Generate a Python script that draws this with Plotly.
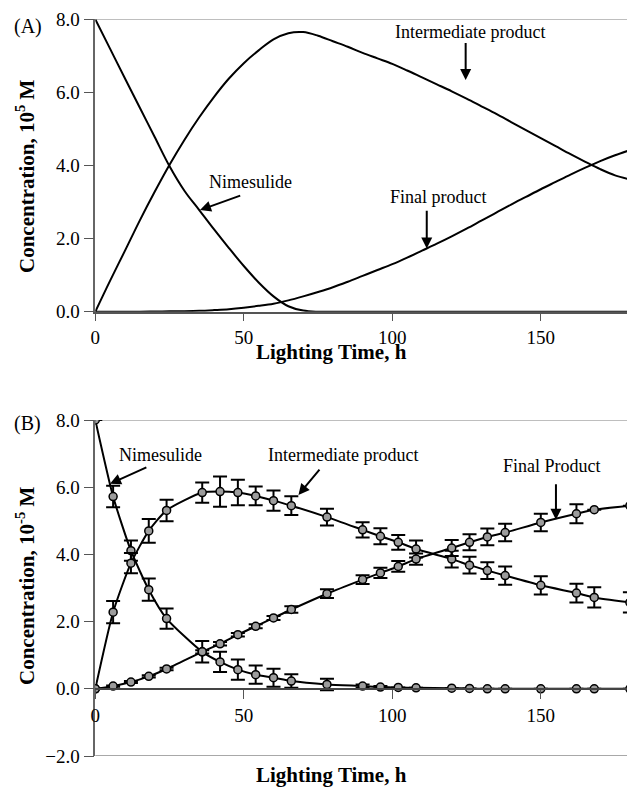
import plotly.graph_objects as go

# ---------------- Panel A (model curves) ----------------
time_a = [0, 5, 10, 15, 20, 25, 30, 35, 40, 45, 50, 55, 60, 65, 70, 75, 80, 85, 90,
          95, 100, 105, 110, 115, 120, 125, 130, 135, 140, 145, 150, 155, 160, 165,
          170, 175, 180]
nim_a = [8.0, 7.19, 6.38, 5.58, 4.78, 3.98, 3.31, 2.78, 2.25, 1.74, 1.25, 0.8, 0.42, 0.15,
         0.03, 0.0, 0, 0, 0, 0, 0, 0, 0, 0, 0, 0, 0, 0, 0, 0, 0, 0, 0, 0, 0, 0, 0]
int_a = [0, 0.85, 1.67, 2.5, 3.28, 4.02, 4.7, 5.32, 5.88, 6.38, 6.8, 7.15, 7.45, 7.62,
         7.65, 7.55, 7.4, 7.25, 7.08, 6.93, 6.78, 6.6, 6.41, 6.22, 6.03, 5.83, 5.62, 5.41,
         5.19, 4.97, 4.75, 4.53, 4.31, 4.1, 3.9, 3.73, 3.62]
fin_a = [0, 0, 0, 0, 0.005, 0.01, 0.015, 0.025, 0.045, 0.07, 0.11, 0.16, 0.22, 0.31,
         0.42, 0.54, 0.67, 0.82, 0.98, 1.14, 1.3, 1.48, 1.67, 1.86, 2.06, 2.27, 2.49, 2.71,
         2.93, 3.14, 3.35, 3.55, 3.75, 3.94, 4.12, 4.28, 4.42]

# ---------------- Panel B (experimental points) ----------------
time_b = [0, 6, 12, 18, 24, 36, 42, 48, 54, 60, 66, 78, 90, 96, 102, 108, 120, 126,
          132, 138, 150, 162, 168, 180]
nim_b = [8.0, 5.72, 4.11, 2.95, 2.09, 1.1, 0.8, 0.57, 0.42, 0.33, 0.23, 0.13, 0.08,
         0.05, 0.04, 0.03, 0.02, 0.01, 0, 0, 0, 0, 0, 0]
nim_err = [None, 0.32, 0.3, 0.33, 0.3, 0.32, 0.3, 0.3, 0.27, 0.27, 0.2, 0.17, 0.05,
           0.03, None, None, None, None, None, None, None, None, None, None]
int_b = [0, 2.28, 3.74, 4.7, 5.31, 5.84, 5.87, 5.84, 5.74, 5.6, 5.45, 5.11, 4.73,
         4.54, 4.36, 4.16, 3.86, 3.68, 3.52, 3.37, 3.08, 2.85, 2.72, 2.57]
int_err = [None, 0.33, 0.3, 0.35, 0.32, 0.3, 0.45, 0.38, 0.28, 0.3, 0.28, 0.25, 0.23,
           0.24, 0.22, 0.25, 0.25, 0.25, 0.25, 0.27, 0.27, 0.28, 0.3, 0.3]
fin_b = [0, 0.08, 0.2, 0.37, 0.59, 1.1, 1.34, 1.61, 1.86, 2.11, 2.36, 2.83, 3.25,
         3.45, 3.64, 3.86, 4.19, 4.36, 4.52, 4.65, 4.95, 5.21, 5.33, 5.45]
fin_err = [None, 0.02, 0.03, 0.03, 0.04, 0.05, 0.05, 0.05, 0.06, 0.06, 0.1, 0.13, 0.13,
           0.15, 0.16, 0.17, 0.24, 0.24, 0.25, 0.26, 0.26, 0.28, None, None]

x_ticks = [0, 50, 100, 150]
y_ticks_a = [0, 2, 4, 6, 8]
y_ticks_b = [-2, 0, 2, 4, 6, 8]

FONT = "Liberation Serif"
W, H = 627, 788

def px(xp):
    return xp / W

def py(yp):
    return 1 - yp / H

fig = go.Figure()

for ys in (nim_a, int_a, fin_a):
    fig.add_trace(go.Scatter(x=time_a, y=ys, mode="lines", xaxis="x", yaxis="y",
                             line=dict(color="black", width=2, shape="spline",
                                       smoothing=1.0),
                             showlegend=False, hoverinfo="skip"))

for ys, es in ((nim_b, nim_err), (int_b, int_err), (fin_b, fin_err)):
    fig.add_trace(go.Scatter(x=time_b, y=ys, mode="lines+markers", xaxis="x2", yaxis="y2",
                             line=dict(color="black", width=2, shape="spline",
                                       smoothing=0.6),
                             marker=dict(size=8, color="#9c9c9c",
                                         line=dict(color="black", width=1.5)),
                             error_y=dict(type="data", array=es, visible=True,
                                          color="black", thickness=2, width=7),
                             showlegend=False, hoverinfo="skip"))

x0 = px(95.3)
xmax = (W - 95.3) / 2.97

axis_common = dict(ticks="outside", tickcolor="#555", tickwidth=1.2,
                   tickfont=dict(family=FONT, size=19, color="black"),
                   showgrid=False, zeroline=False)

fig.update_layout(
    width=W, height=H,
    margin=dict(l=0, r=0, t=0, b=0),
    paper_bgcolor="white", plot_bgcolor="white",
    xaxis=dict(domain=[x0, 1], range=[0, xmax], anchor="y", tickvals=x_ticks,
               ticklen=8, showline=True, linecolor="#555", linewidth=1.5,
               automargin=False, **axis_common),
    yaxis=dict(domain=[py(311.7), py(19.3)], range=[0, 8], anchor="x",
               tickvals=y_ticks_a, tickformat=".1f", ticklen=10,
               showline=True, linecolor="#666", linewidth=1.5,
               automargin=False, **axis_common),
    xaxis2=dict(domain=[x0, 1], range=[0, xmax], anchor="free", position=py(689.3),
                tickvals=x_ticks, ticklen=9, showline=True, linecolor="#444",
                linewidth=1.5, automargin=False, **axis_common),
    yaxis2=dict(domain=[py(756), py(420)], range=[-2, 8], anchor="x2",
                tickvals=y_ticks_b, tickformat=".1f", ticklen=10,
                showline=True, linecolor="#666", linewidth=1.5,
                automargin=False, **axis_common),
)

# borders
shapes = [
    dict(type="line", xref="x domain", yref="y", x0=0, x1=1, y0=8, y1=8,
         line=dict(color="#a8a8a8", width=1.5), layer="below"),
    dict(type="line", xref="x2 domain", yref="y2", x0=0, x1=1, y0=8, y1=8,
         line=dict(color="#a8a8a8", width=1.5), layer="below"),
    dict(type="line", xref="x2 domain", yref="y2", x0=0, x1=1, y0=-2, y1=-2,
         line=dict(color="#a8a8a8", width=2), layer="below"),
]
fig.update_layout(shapes=shapes)

ann = []
def text(x, y, s, xref, yref, size=18, **kw):
    ann.append(dict(x=x, y=y, xref=xref, yref=yref, text=s, showarrow=False,
                    xanchor="center", yanchor="middle",
                    font=dict(family=FONT, size=size, color="black"), **kw))

def arrow(xh, yh, xt, yt, xr, yr):
    ann.append(dict(x=xh, y=yh, ax=xt, ay=yt, xref=xr, yref=yr, axref=xr, ayref=yr,
                    text="", showarrow=True, arrowhead=2, arrowsize=1.1,
                    arrowwidth=2, arrowcolor="black"))

# Panel A labels
text(126.2, 7.66, "Intermediate product", "x", "y")
arrow(124.7, 6.34, 124.7, 7.39, "x", "y")
text(115.7, 3.13, "Final product", "x", "y")
arrow(111.6, 1.73, 111.6, 2.80, "x", "y")
text(52.1, 3.56, "Nimesulide", "x", "y")
arrow(35.25, 2.78, 49.3, 3.19, "x", "y")

# Panel B labels
text(22.1, 6.96, "Nimesulide", "x2", "y2")
arrow(4.95, 6.10, 17.7, 6.61, "x2", "y2")
text(83.4, 6.96, "Intermediate product", "x2", "y2")
arrow(68.4, 5.77, 75.9, 6.57, "x2", "y2")
text(153.9, 6.62, "Final Product", "x2", "y2")
arrow(155.1, 5.03, 155.1, 6.13, "x2", "y2")

# panel tags
text(px(28), py(26), "(A)", "paper", "paper", size=20)
text(px(27), py(423), "(B)", "paper", "paper", size=20)

# axis titles
text(px(331), py(352), "<b>Lighting Time, h</b>", "paper", "paper", size=21)
text(px(331), py(775), "<b>Lighting Time, h</b>", "paper", "paper", size=21)
text(px(25), py(176), "<b>Concentration, 10<sup>5</sup> M</b>", "paper", "paper",
     size=21, textangle=-90)
text(px(25), py(586), "<b>Concentration, 10<sup>-5</sup> M</b>", "paper", "paper",
     size=21, textangle=-90)

fig.update_layout(annotations=ann)

fig.write_html("out.html")
